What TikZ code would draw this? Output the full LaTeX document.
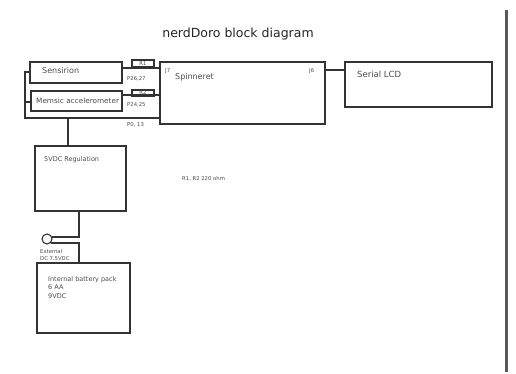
\documentclass[tikz,border=0pt]{standalone}
\usepackage{fontspec}
\setmainfont{DejaVu Sans}
\begin{document}
\begin{tikzpicture}[x=1pt,y=-1pt,
  box/.style={draw=black!80,line width=1.1pt,inner sep=0pt},
  wire/.style={draw=black!80,line width=1.1pt},
  lbl/.style={font=\fontsize{8}{9}\selectfont,text=black!70,inner sep=0pt,anchor=west},
  slbl/.style={font=\fontsize{6.5}{8.5}\selectfont,text=black!70,inner sep=0pt,anchor=west},
  tiny/.style={font=\fontsize{5.3}{7}\selectfont,text=black!70,inner sep=0pt}]
\useasboundingbox (0,0) rectangle (516,374);
\fill[white] (0,0) rectangle (516,374);
% page edge shadow
\fill[black!65] (505,10) rectangle (508,372);
% title
\node[font=\fontsize{12.5}{14}\selectfont,text=black!85] (title) at (238,34) {nerdDoro block diagram};
% boxes
\draw[box] (30,62) rectangle (122,83);
\node[lbl] (sens) at (42,71) {Sensirion};
\draw[box] (31,91) rectangle (122,111);
\node[lbl,font=\fontsize{7.3}{9}\selectfont] (mem) at (36,101) {Memsic accelerometer};
\draw[box] (160,62) rectangle (325,124);
\node[lbl] (spin) at (175,77) {Spinneret};
\node[tiny,anchor=west] (j7) at (165,71) {J7};
\node[tiny,anchor=west] (j6) at (309,71) {J6};
\draw[box] (345,62) rectangle (492,107);
\node[lbl,font=\fontsize{8.5}{9}\selectfont] (lcd) at (357,74) {Serial LCD};
\draw[box] (35,146) rectangle (126,211);
\node[slbl] (reg) at (44,160) {5VDC Regulation};
\draw[box] (37,263) rectangle (130,333);
\node[slbl,align=left,anchor=north west] (bat) at (48,276) {Internal battery pack\\6 AA\\9VDC};
% resistors
\draw[box] (132,60) rectangle (154,67);
\node[tiny] (r1) at (143,63.5) {R1};
\draw[box] (132,90) rectangle (154,96);
\node[tiny] (r2) at (143,93) {R2};
% pin labels
\node[tiny,anchor=west] (p1) at (127,79) {P26,27};
\node[tiny,anchor=west] (p2) at (127,105) {P24,25};
\node[tiny,anchor=west] (p3) at (127,125) {P0, 13};
\node[tiny,anchor=west] (rr) at (182,179) {R1, R2 220 ohm};
% wires
\draw[wire] (122,68) -- (160,68);
\draw[wire] (122,95) -- (160,95);
\draw[wire] (325,70) -- (345,70);
\draw[wire] (30,72) -- (25,72) -- (25,118) -- (160,118);
\draw[wire] (25,102) -- (31,102);
\draw[wire] (68,118) -- (68,146);
% DC jack
\draw[wire] (47,239) circle (5);
\draw[wire] (79,211) -- (79,237) -- (52,237);
\draw[wire] (51,243) -- (79,243) -- (79,263);
\node[tiny,anchor=west,align=left] (ext) at (40,255) {External\\DC 7.5VDC};
\end{tikzpicture}
\end{document}
